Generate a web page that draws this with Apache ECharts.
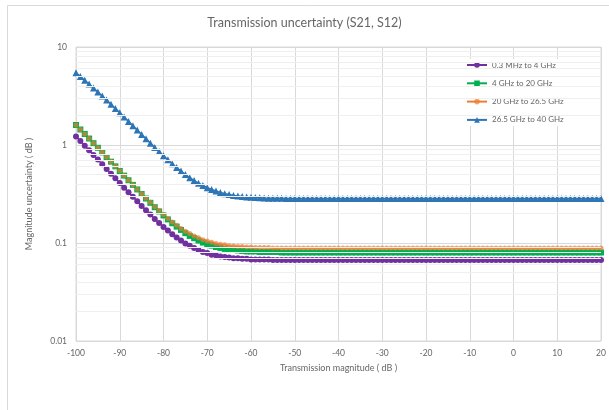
<!DOCTYPE html>
<html>
<head>
<meta charset="utf-8">
<script src="https://cdn.jsdelivr.net/npm/echarts@6/dist/echarts.min.js"></script>
<style>
  html, body { margin: 0; padding: 0; background: #fff; }
  #chart { width: 609px; height: 410px; }
</style>
</head>
<body>
<div id="chart"></div>
<script>
// transmission magnitude, dB
var magnitude = [
  -100, -99, -98, -97, -96, -95, -94, -93, -92, -91,
  -90, -89, -88, -87, -86, -85, -84, -83, -82, -81,
  -80, -79, -78, -77, -76, -75, -74, -73, -72, -71,
  -70, -69, -68, -67, -66, -65, -64, -63, -62, -61,
  -60, -59, -58, -57, -56, -55, -54, -53, -52, -51,
  -50, -49, -48, -47, -46, -45, -44, -43, -42, -41,
  -40, -39, -38, -37, -36, -35, -34, -33, -32, -31,
  -30, -29, -28, -27, -26, -25, -24, -23, -22, -21,
  -20, -19, -18, -17, -16, -15, -14, -13, -12, -11,
  -10, -9, -8, -7, -6, -5, -4, -3, -2, -1,
  0, 1, 2, 3, 4, 5, 6, 7, 8, 9,
  10, 11, 12, 13, 14, 15, 16, 17, 18, 19,
  20
];

var seriesNames = ['0.3 MHz to 4 GHz', '4 GHz to 20 GHz', '20 GHz to 26.5 GHz', '26.5 GHz to 40 GHz'];

var band1 = [
  1.221, 1.097, 0.984, 0.884, 0.792, 0.710, 0.636, 0.570, 0.510, 0.457,
  0.410, 0.367, 0.330, 0.296, 0.266, 0.239, 0.216, 0.195, 0.176, 0.160,
  0.146, 0.134, 0.123, 0.114, 0.106, 0.099, 0.094, 0.089, 0.085, 0.081,
  0.079, 0.076, 0.075, 0.073, 0.072, 0.071, 0.070, 0.070, 0.069, 0.069,
  0.068, 0.068, 0.068, 0.068, 0.068, 0.067, 0.067, 0.067, 0.067, 0.067,
  0.067, 0.067, 0.067, 0.067, 0.067, 0.067, 0.067, 0.067, 0.067, 0.067,
  0.067, 0.067, 0.067, 0.067, 0.067, 0.067, 0.067, 0.067, 0.067, 0.067,
  0.067, 0.067, 0.067, 0.067, 0.067, 0.067, 0.067, 0.067, 0.067, 0.067,
  0.067, 0.067, 0.067, 0.067, 0.067, 0.067, 0.067, 0.067, 0.067, 0.067,
  0.067, 0.067, 0.067, 0.067, 0.067, 0.067, 0.067, 0.067, 0.067, 0.067,
  0.067, 0.067, 0.067, 0.067, 0.067, 0.067, 0.067, 0.067, 0.067, 0.067,
  0.067, 0.067, 0.067, 0.067, 0.067, 0.067, 0.067, 0.067, 0.067, 0.067,
  0.067
];

var band2 = [
  1.599, 1.440, 1.295, 1.164, 1.044, 0.937, 0.841, 0.754, 0.676, 0.606,
  0.543, 0.487, 0.437, 0.392, 0.352, 0.316, 0.284, 0.257, 0.232, 0.210,
  0.191, 0.174, 0.159, 0.147, 0.136, 0.126, 0.118, 0.112, 0.106, 0.101,
  0.097, 0.094, 0.091, 0.089, 0.087, 0.086, 0.085, 0.084, 0.083, 0.082,
  0.082, 0.082, 0.081, 0.081, 0.081, 0.081, 0.081, 0.080, 0.080, 0.080,
  0.080, 0.080, 0.080, 0.080, 0.080, 0.080, 0.080, 0.080, 0.080, 0.080,
  0.080, 0.080, 0.080, 0.080, 0.080, 0.080, 0.080, 0.080, 0.080, 0.080,
  0.080, 0.080, 0.080, 0.080, 0.080, 0.080, 0.080, 0.080, 0.080, 0.080,
  0.080, 0.080, 0.080, 0.080, 0.080, 0.080, 0.080, 0.080, 0.080, 0.080,
  0.080, 0.080, 0.080, 0.080, 0.080, 0.080, 0.080, 0.080, 0.080, 0.080,
  0.080, 0.080, 0.080, 0.080, 0.080, 0.080, 0.080, 0.080, 0.080, 0.080,
  0.080, 0.080, 0.080, 0.080, 0.080, 0.080, 0.080, 0.080, 0.080, 0.080,
  0.080
];

var band3 = [
  1.600, 1.440, 1.295, 1.164, 1.045, 0.938, 0.842, 0.755, 0.677, 0.607,
  0.545, 0.488, 0.438, 0.394, 0.354, 0.319, 0.287, 0.260, 0.235, 0.214,
  0.195, 0.178, 0.164, 0.152, 0.141, 0.132, 0.125, 0.118, 0.113, 0.108,
  0.105, 0.102, 0.099, 0.097, 0.096, 0.094, 0.093, 0.092, 0.092, 0.091,
  0.091, 0.090, 0.090, 0.090, 0.090, 0.089, 0.089, 0.089, 0.089, 0.089,
  0.089, 0.089, 0.089, 0.089, 0.089, 0.089, 0.089, 0.089, 0.089, 0.089,
  0.089, 0.089, 0.089, 0.089, 0.089, 0.089, 0.089, 0.089, 0.089, 0.089,
  0.089, 0.089, 0.089, 0.089, 0.089, 0.089, 0.089, 0.089, 0.089, 0.089,
  0.089, 0.089, 0.089, 0.089, 0.089, 0.089, 0.089, 0.089, 0.089, 0.089,
  0.089, 0.089, 0.089, 0.089, 0.089, 0.089, 0.089, 0.089, 0.089, 0.089,
  0.089, 0.089, 0.089, 0.089, 0.089, 0.089, 0.089, 0.089, 0.089, 0.089,
  0.089, 0.089, 0.089, 0.089, 0.089, 0.089, 0.089, 0.089, 0.089, 0.089,
  0.089
];

var band4 = [
  5.458, 5.008, 4.583, 4.188, 3.821, 3.479, 3.163, 2.871, 2.603, 2.358,
  2.133, 1.927, 1.741, 1.573, 1.419, 1.281, 1.156, 1.045, 0.945, 0.856,
  0.776, 0.706, 0.644, 0.589, 0.542, 0.500, 0.464, 0.434, 0.408, 0.386,
  0.367, 0.351, 0.339, 0.328, 0.319, 0.312, 0.306, 0.302, 0.298, 0.295,
  0.293, 0.291, 0.290, 0.288, 0.287, 0.287, 0.286, 0.286, 0.285, 0.285,
  0.285, 0.284, 0.284, 0.284, 0.284, 0.284, 0.284, 0.284, 0.284, 0.284,
  0.284, 0.284, 0.284, 0.284, 0.284, 0.284, 0.284, 0.284, 0.284, 0.284,
  0.284, 0.284, 0.284, 0.284, 0.284, 0.284, 0.284, 0.284, 0.284, 0.284,
  0.284, 0.284, 0.284, 0.284, 0.284, 0.284, 0.284, 0.284, 0.284, 0.284,
  0.284, 0.284, 0.284, 0.284, 0.284, 0.284, 0.284, 0.284, 0.284, 0.284,
  0.284, 0.284, 0.284, 0.284, 0.284, 0.284, 0.284, 0.284, 0.284, 0.284,
  0.284, 0.284, 0.284, 0.284, 0.284, 0.284, 0.284, 0.284, 0.284, 0.284,
  0.284
];

// minor gridlines of the log axis (2..9 of each decade)
var minorGrid = [
  0.02, 0.03, 0.04, 0.05, 0.06, 0.07, 0.08, 0.09,
  0.2, 0.3, 0.4, 0.5, 0.6, 0.7, 0.8, 0.9,
  2, 3, 4, 5, 6, 7, 8, 9
];

function pairs(values) {
  return magnitude.map(function (x, i) { return [x, values[i]]; });
}

var myChart = echarts.init(document.getElementById('chart'));
var txt = '#666666';
var font = 'Lato';

option = {
  backgroundColor: '#fff',
  animation: false,
  title: {
    text: 'Transmission uncertainty (S21, S12)',
    left: 'center',
    top: 11,
    textStyle: { fontFamily: font, fontSize: 12.5, fontWeight: 'normal', color: txt }
  },
  graphic: [{
    type: 'rect',
    shape: { x: 7.5, y: 5.5, width: 604, height: 410 },
    style: { fill: 'none', stroke: '#d9d9d9', lineWidth: 1 },
    silent: true
  }],
  legend: {
    orient: 'vertical',
    left: 460,
    top: 59,
    padding: [2, 6, 2, 6],
    backgroundColor: '#fff',
    itemWidth: 20,
    itemHeight: 7,
    itemGap: 10.3,
    textStyle: { fontFamily: font, fontSize: 8, color: txt },
    data: seriesNames
  },
  grid: {
    left: 76,
    right: 8,
    top: 47,
    bottom: 69,
    show: true,
    borderColor: '#d9d9d9',
    borderWidth: 1
  },
  xAxis: {
    type: 'value',
    min: -100,
    max: 20,
    interval: 10,
    name: 'Transmission magnitude ( dB )',
    nameLocation: 'middle',
    nameGap: 23,
    nameTextStyle: { fontFamily: font, fontSize: 9, color: txt },
    axisLine: { show: false },
    axisTick: { show: false },
    axisLabel: { fontFamily: font, fontSize: 8.5, color: txt, margin: 8 },
    splitLine: { lineStyle: { color: '#d9d9d9', width: 1 } }
  },
  yAxis: {
    type: 'log',
    logBase: 10,
    min: 0.01,
    max: 10,
    name: 'Magnitude uncertainty ( dB )',
    nameLocation: 'middle',
    nameGap: 42,
    nameTextStyle: { fontFamily: font, fontSize: 9, color: txt },
    axisLine: { show: false },
    axisTick: { show: false },
    axisLabel: { fontFamily: font, fontSize: 8.5, color: txt, margin: 9 },
    splitLine: { lineStyle: { color: '#d9d9d9', width: 1 } }
  },
  series: [
    {
      name: 'grid',
      type: 'line',
      data: [],
      silent: true,
      z: 0,
      markLine: {
        silent: true,
        symbol: 'none',
        label: { show: false },
        lineStyle: { color: '#efefef', width: 1, type: 'solid' },
        data: minorGrid.map(function (v) { return { yAxis: v }; })
      }
    },
    {
      name: seriesNames[0],
      type: 'line',
      data: pairs(band1),
      color: '#7030a0',
      symbol: 'circle',
      symbolSize: 6,
      showAllSymbol: true,
      lineStyle: { width: 1.5 }
    },
    {
      name: seriesNames[1],
      type: 'line',
      data: pairs(band2),
      color: '#00b050',
      symbol: 'rect',
      symbolSize: 6,
      showAllSymbol: true,
      lineStyle: { width: 1.5 }
    },
    {
      name: seriesNames[2],
      type: 'line',
      data: pairs(band3),
      color: '#ed7d31',
      symbol: 'circle',
      symbolSize: 5,
      showAllSymbol: true,
      itemStyle: { opacity: 0.7 },
      lineStyle: { width: 1.5 }
    },
    {
      name: seriesNames[3],
      type: 'line',
      data: pairs(band4),
      color: '#2e75b6',
      symbol: 'triangle',
      symbolSize: 7,
      showAllSymbol: true,
      lineStyle: { width: 1.5 }
    }
  ]
};

myChart.setOption(option);
</script>
</body>
</html>
